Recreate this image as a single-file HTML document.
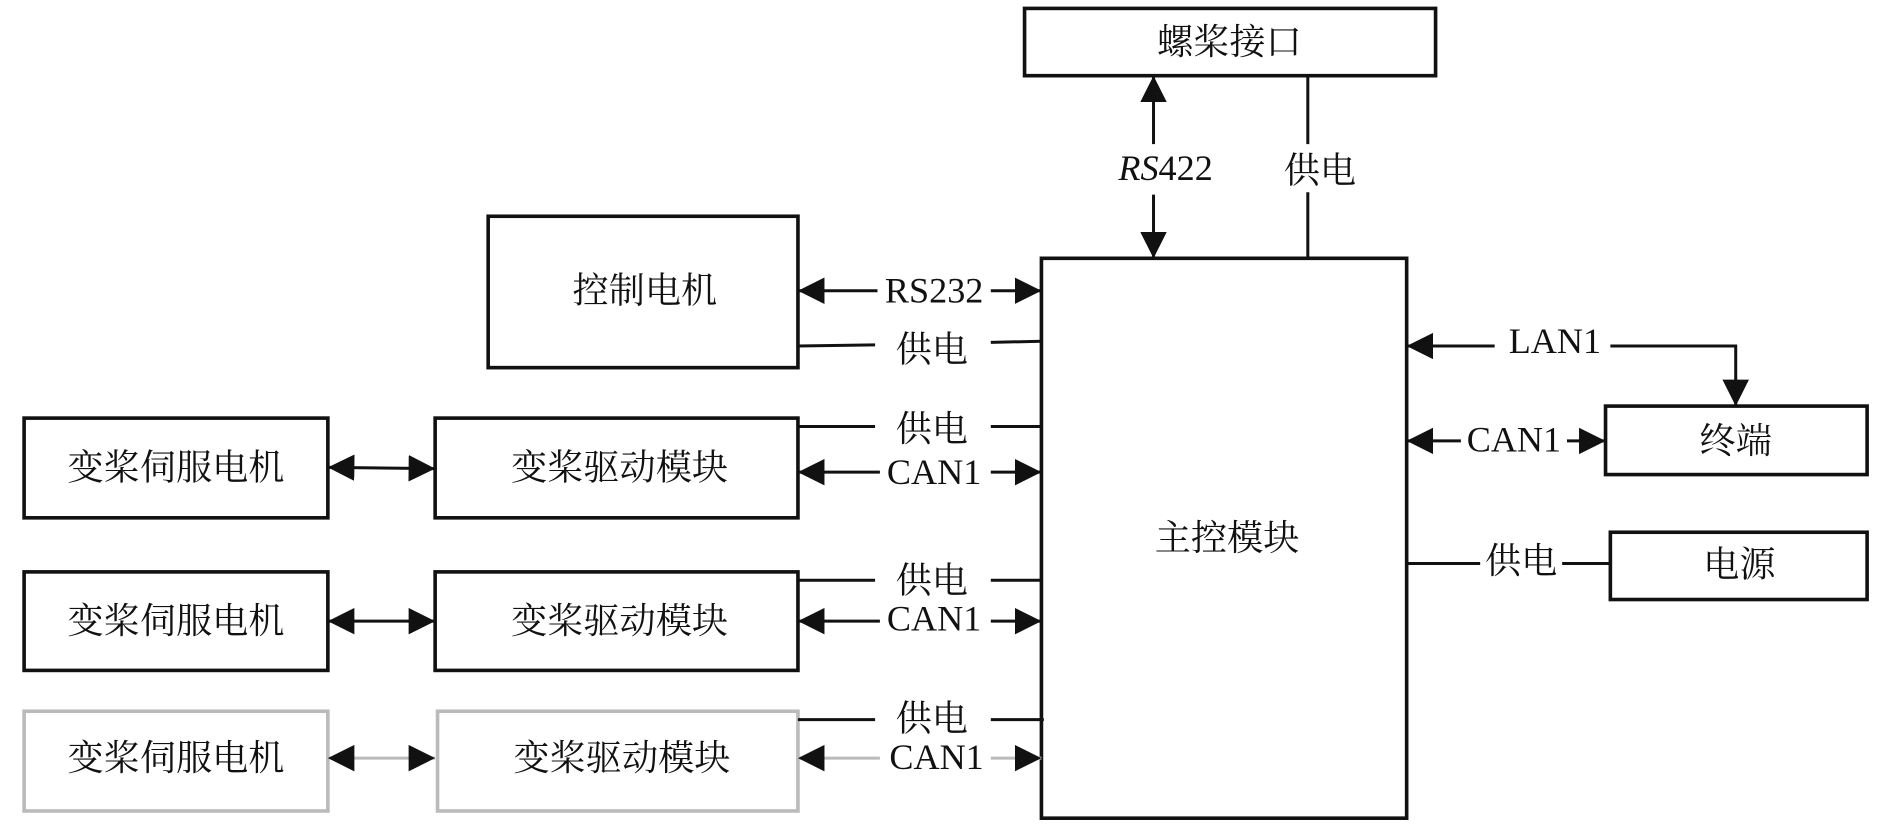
<!DOCTYPE html>
<html><head><meta charset="utf-8"><style>
html,body{margin:0;padding:0;background:#fff}
svg{display:block}
text{font-family:"Liberation Serif","Noto Serif CJK SC","Noto Sans CJK SC",serif;font-size:30px;fill:#111}
</style></head><body>
<svg width="1890" height="829" viewBox="0 0 1568 690" preserveAspectRatio="none" xmlns="http://www.w3.org/2000/svg">
<defs>
<marker id="a" viewBox="0 0 10 10" refX="10" refY="5" markerWidth="7" markerHeight="7" orient="auto-start-reverse" markerUnits="userSpaceOnUse">
<path d="M0,0 L10,5 L0,10 z" fill="#111"/></marker>
<marker id="ah" viewBox="0 0 10 10" refX="10" refY="5" markerWidth="22" markerHeight="22" orient="auto-start-reverse" markerUnits="userSpaceOnUse">
<path d="M0,0 L10,5 L0,10 z" fill="#111"/></marker>
</defs>
<g fill="none" stroke="#111" stroke-width="3">
<rect x="850" y="7" width="341" height="56"/>
<rect x="864" y="215" width="303" height="466"/>
<rect x="405" y="180" width="257" height="126"/>
<rect x="20" y="348" width="252" height="83"/>
<rect x="361" y="348" width="301" height="83"/>
<rect x="20" y="476" width="252" height="82"/>
<rect x="361" y="476" width="301" height="82"/>
<rect x="1332" y="338" width="217" height="57"/>
<rect x="1336" y="443" width="213" height="56"/>
</g>
<g fill="none" stroke="#bbb" stroke-width="3">
<rect x="20" y="592" width="252" height="83"/>
<rect x="363" y="592" width="299" height="83"/>
</g>
<g stroke="#111" stroke-width="2.5" fill="none">
<!-- RS422 -->
<line x1="957" y1="63" x2="957" y2="120" marker-start="url(#ah)"/>
<line x1="957" y1="162" x2="957" y2="215" marker-end="url(#ah)"/>
<line x1="1085" y1="63" x2="1085" y2="120"/>
<line x1="1085" y1="160" x2="1085" y2="215"/>
<!-- RS232 -->
<line x1="662" y1="242" x2="728" y2="242" marker-start="url(#ah)"/>
<line x1="822" y1="242" x2="864" y2="242" marker-end="url(#ah)"/>
<line x1="662" y1="288" x2="726" y2="287"/><line x1="822" y1="285" x2="864" y2="284"/>
<!-- row1 -->
<line x1="662" y1="355" x2="726" y2="355"/><line x1="822" y1="355" x2="864" y2="355"/>
<line x1="662" y1="393" x2="730" y2="393" marker-start="url(#ah)"/>
<line x1="822" y1="393" x2="864" y2="393" marker-end="url(#ah)"/>
<line x1="272" y1="389" x2="361" y2="390" marker-start="url(#ah)" marker-end="url(#ah)"/>
<!-- row2 -->
<line x1="662" y1="483" x2="726" y2="483"/><line x1="822" y1="483" x2="864" y2="483"/>
<line x1="662" y1="517" x2="730" y2="517" marker-start="url(#ah)"/>
<line x1="822" y1="517" x2="864" y2="517" marker-end="url(#ah)"/>
<line x1="272" y1="517" x2="361" y2="517" marker-start="url(#ah)" marker-end="url(#ah)"/>
<!-- row3 -->
<line x1="662" y1="599" x2="726" y2="599"/><line x1="822" y1="599" x2="866" y2="599"/>
<line x1="662" y1="631" x2="730" y2="631" marker-start="url(#ah)" stroke="#bbb"/>
<line x1="822" y1="631" x2="864" y2="631" marker-end="url(#ah)" stroke="#bbb"/>
<line x1="272" y1="631" x2="361" y2="631" marker-start="url(#ah)" marker-end="url(#ah)" stroke="#bbb"/>
<!-- right -->
<line x1="1167" y1="288" x2="1240" y2="288" marker-start="url(#ah)"/>
<polyline points="1336,288 1440,288 1440,338" marker-end="url(#ah)"/>
<line x1="1167" y1="367" x2="1212" y2="367" marker-start="url(#ah)"/>
<line x1="1300" y1="367" x2="1332" y2="367" marker-end="url(#ah)"/>
<line x1="1167" y1="469" x2="1228" y2="469"/><line x1="1296" y1="469" x2="1336" y2="469"/>
</g>
<g text-anchor="middle" dominant-baseline="central">
<text x="1020" y="35">螺桨接口</text>
<text x="967" y="140"><tspan font-style="italic">RS</tspan>422</text>
<text x="1095" y="142">供电</text>
<text x="1018" y="448">主控模块</text>
<text x="535" y="242">控制电机</text>
<text x="775" y="242">RS232</text>
<text x="773" y="291">供电</text>
<text x="146" y="389">变桨伺服电机</text>
<text x="514" y="389">变桨驱动模块</text>
<text x="773" y="357">供电</text>
<text x="775" y="393">CAN1</text>
<text x="146" y="517">变桨伺服电机</text>
<text x="514" y="517">变桨驱动模块</text>
<text x="773" y="483">供电</text>
<text x="775" y="515">CAN1</text>
<text x="146" y="631">变桨伺服电机</text>
<text x="516" y="631">变桨驱动模块</text>
<text x="773" y="598">供电</text>
<text x="777" y="630">CAN1</text>
<text x="1290" y="284">LAN1</text>
<text x="1256" y="366">CAN1</text>
<text x="1440" y="367">终端</text>
<text x="1262" y="467">供电</text>
<text x="1443" y="470">电源</text>
</g>
</svg>
</body></html>
